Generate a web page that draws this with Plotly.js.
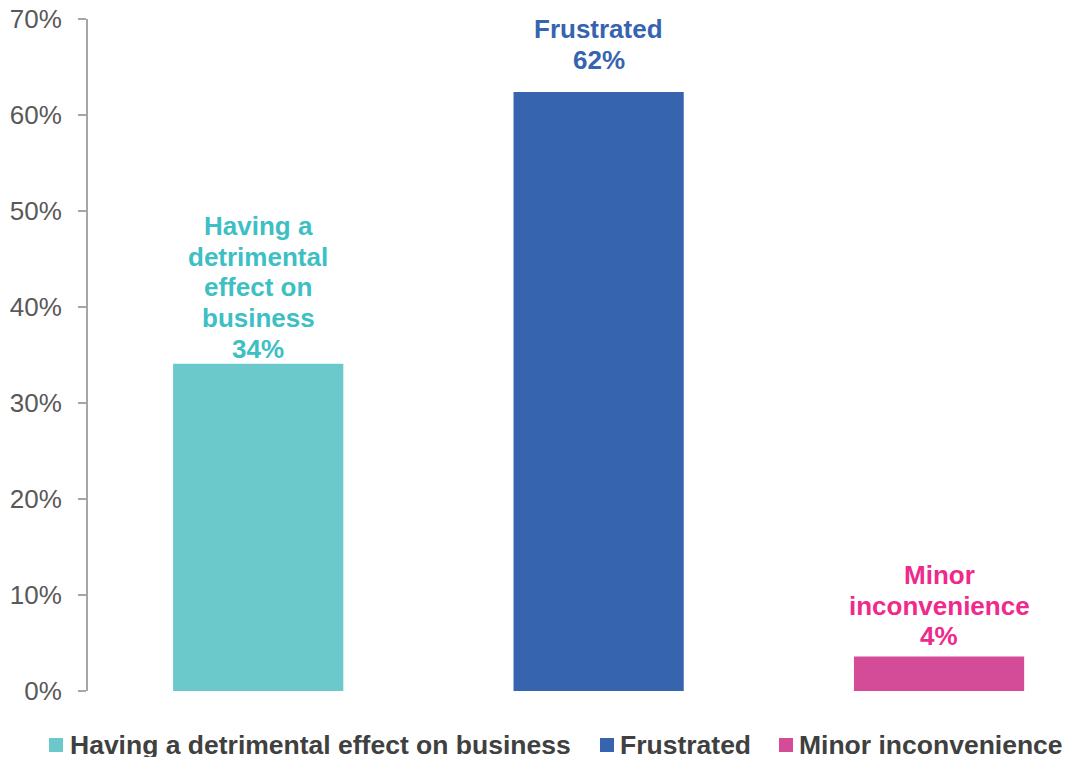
<!DOCTYPE html>
<html>
<head>
<meta charset="utf-8">
<script src="https://cdn.plot.ly/plotly-3.0.1.min.js"></script>
<style>html,body{margin:0;padding:0;background:#fff;}#chart{width:1065px;height:757px;}</style>
</head>
<body>
<div id="chart"></div>
<script>
const categories = ["Having a detrimental effect on business", "Frustrated", "Minor inconvenience"];
const values = [34.1, 62.4, 3.6];
const labelLines = [
  ["Having a", "detrimental", "effect on", "business", "34%"],
  ["Frustrated", "62%"],
  ["Minor", "inconvenience", "4%"]
];
const barColors = ["#6CC9CB", "#3764AF", "#D44C98"];
const labelColors = ["#3DBFC3", "#3764AF", "#EE2A8C"];
const yTicks = [0, 10, 20, 30, 40, 50, 60, 70];

const font = "Liberation Sans, Arial, sans-serif";
const labelGap = [15, 32, 20];   // px from bar top to centre of last label line
const lineStep = 30.6;           // px between label lines

// plot area in pixels
const PL = 88, PR = 1065, PT = 19, PB = 691;
const px2x = p => (p - PL) / (PR - PL);
const py2y = p => (PB - p) / (PB - PT);

const traces = categories.map((c, i) => ({
  type: "bar",
  x: [c],
  y: [values[i]],
  name: c,
  width: 0.5,
  marker: {color: barColors[i]},
  hoverinfo: "none",
  showlegend: false
}));

const annotations = [];
categories.forEach((c, i) => {
  const lines = labelLines[i];
  lines.forEach((t, k) => {
    annotations.push({
      x: c, y: values[i], xref: "x", yref: "y",
      text: t, showarrow: false,
      yanchor: "middle", xanchor: "center",
      yshift: labelGap[i] + (lines.length - 1 - k) * lineStep,
      font: {family: font, size: 26, color: labelColors[i], weight: "bold"}
    });
  });
});

// custom legend (one row, bottom)
const legendSquareLeft = [49, 600, 779];
const legendTextLeft = [68, 618, 797];
const shapes = [];
categories.forEach((c, i) => {
  shapes.push({
    type: "rect", xref: "paper", yref: "paper",
    x0: px2x(legendSquareLeft[i]), x1: px2x(legendSquareLeft[i] + 14),
    y0: py2y(752), y1: py2y(738),
    fillcolor: barColors[i], line: {width: 0}
  });
  annotations.push({
    xref: "paper", yref: "paper",
    x: px2x(legendTextLeft[i]), y: py2y(745),
    xanchor: "left", yanchor: "middle", showarrow: false,
    text: c,
    font: {family: font, size: 26.5, color: "#404040", weight: "bold"}
  });
});

const layout = {
  width: 1065, height: 757,
  margin: {l: PL, r: 1065 - PR, t: PT, b: 757 - PB},
  paper_bgcolor: "#fff", plot_bgcolor: "#fff",
  barmode: "overlay",
  showlegend: false,
  xaxis: {
    type: "category", range: [-0.5, 2.37], showticklabels: false,
    showline: false, showgrid: false, zeroline: false, ticks: ""
  },
  yaxis: {
    range: [0, 70], tickvals: yTicks, ticktext: yTicks.map(v => v + "%"),
    showline: true, linecolor: "#A6A6A6", linewidth: 2,
    ticks: "outside", ticklen: 8, tickcolor: "#A6A6A6", tickwidth: 2,
    showgrid: false, zeroline: false,
    tickfont: {family: font, size: 26, color: "#595959"},
    ticklabelstandoff: 11
  },
  shapes: shapes,
  annotations: annotations
};

Plotly.newPlot("chart", traces, layout, {displayModeBar: false, staticPlot: true});
</script>
</body>
</html>
